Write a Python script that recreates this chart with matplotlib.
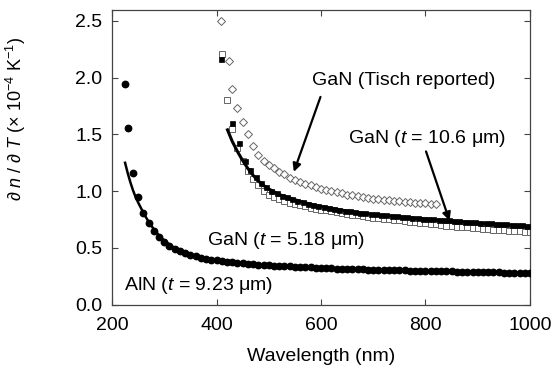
import matplotlib
matplotlib.use("Agg")
import matplotlib.pyplot as plt

plt.rcParams['font.family'] = ['Liberation Sans', 'DejaVu Sans']
plt.rcParams['mathtext.fontset'] = 'custom'
plt.rcParams['mathtext.rm'] = 'Liberation Sans'
plt.rcParams['mathtext.it'] = 'Liberation Sans:italic'

# AlN (t = 9.23 um) measured points
aln_wl = [225, 230, 240, 250, 260, 270, 280, 290, 300, 310, 320, 330, 340, 350, 360,
          370, 380, 390, 400, 410, 420, 430, 440, 450, 460, 470, 480, 490, 500, 510,
          520, 530, 540, 550, 560, 570, 580, 590, 600, 610, 620, 630, 640, 650, 660,
          670, 680, 690, 700, 710, 720, 730, 740, 750, 760, 770, 780, 790, 800, 810,
          820, 830, 840, 850, 860, 870, 880, 890, 900, 910, 920, 930, 940, 950, 960,
          970, 980, 990, 1000]
aln_dn = [1.94, 1.56, 1.16, 0.95, 0.81, 0.72, 0.65, 0.595, 0.55, 0.515, 0.49, 0.47, 0.452, 0.438, 0.426,
          0.415, 0.406, 0.398, 0.391, 0.385, 0.379, 0.374, 0.369, 0.365, 0.361, 0.357, 0.354, 0.351, 0.348, 0.345,
          0.342, 0.339, 0.337, 0.334, 0.332, 0.33, 0.328, 0.326, 0.324, 0.322, 0.32, 0.318, 0.317, 0.315, 0.314,
          0.312, 0.311, 0.309, 0.308, 0.307, 0.306, 0.305, 0.304, 0.303, 0.302, 0.301, 0.3, 0.299, 0.298, 0.297,
          0.296, 0.295, 0.294, 0.293, 0.292, 0.291, 0.29, 0.289, 0.288, 0.287, 0.286, 0.285, 0.284, 0.283, 0.282,
          0.281, 0.28, 0.279, 0.278]

# AlN fit
aln_fit_wl = [225, 230, 235, 240, 245, 250, 260, 270, 280, 290, 300, 310, 320, 330, 340, 350,
              360, 380, 400, 450, 500, 600, 700, 800, 900, 1000]
aln_fit_dn = [1.25, 1.16, 1.08, 1.01, 0.95, 0.9, 0.81, 0.73, 0.665, 0.61, 0.565, 0.53, 0.5, 0.475,
              0.455, 0.44, 0.425, 0.405, 0.39, 0.365, 0.35, 0.322, 0.305, 0.294, 0.285, 0.277]

# GaN (t = 5.18 um) open squares
gan5_wl = [410, 420, 430, 440, 450, 460, 470, 480, 490, 500, 510, 520, 530, 540, 550,
           560, 570, 580, 590, 600, 610, 620, 630, 640, 650, 660, 670, 680, 690, 700,
           710, 720, 730, 740, 750, 760, 770, 780, 790, 800, 810, 820, 830, 840, 850,
           860, 870, 880, 890, 900, 910, 920, 930, 940, 950, 960, 970, 980, 990, 1000]
gan5_dn = [2.21, 1.8, 1.55, 1.38, 1.27, 1.18, 1.11, 1.05, 1.0, 0.97, 0.95, 0.93, 0.915, 0.9, 0.887,
           0.875, 0.865, 0.855, 0.846, 0.838, 0.83, 0.822, 0.814, 0.806, 0.799, 0.792, 0.786, 0.78, 0.774, 0.768,
           0.762, 0.757, 0.752, 0.747, 0.742, 0.737, 0.732, 0.727, 0.722, 0.717, 0.712, 0.707, 0.702, 0.697, 0.692,
           0.688, 0.684, 0.68, 0.676, 0.672, 0.668, 0.664, 0.661, 0.658, 0.655, 0.652, 0.649, 0.646, 0.643, 0.64]

# GaN (t = 10.6 um) filled squares
gan10_wl = [408, 429, 444, 455, 465, 475, 485, 495, 505, 515, 525, 535, 545, 555, 565,
            575, 585, 595, 605, 615, 625, 635, 645, 655, 665, 675, 685, 695, 705, 715,
            725, 735, 745, 755, 765, 775, 785, 795, 805, 815, 825, 835, 845, 855, 865,
            875, 885, 895, 905, 915, 925, 935, 945, 955, 965, 975, 985, 995]
gan10_dn = [2.16, 1.6, 1.42, 1.27, 1.19, 1.125, 1.075, 1.037, 1.005, 0.98, 0.96, 0.945, 0.93, 0.915, 0.902,
            0.89, 0.879, 0.869, 0.86, 0.851, 0.843, 0.836, 0.829, 0.822, 0.816, 0.81, 0.805, 0.8, 0.795, 0.791,
            0.787, 0.783, 0.779, 0.775, 0.771, 0.767, 0.763, 0.759, 0.755, 0.751, 0.748, 0.745, 0.742, 0.739, 0.736,
            0.732, 0.729, 0.726, 0.722, 0.719, 0.716, 0.713, 0.71, 0.707, 0.704, 0.701, 0.698, 0.695]

# GaN fit
gan_fit_wl = [421, 430, 440, 450, 460, 470, 480, 490, 500, 520, 540, 560, 580, 600, 650,
              700, 750, 800, 850, 900, 950, 1000]
gan_fit_dn = [1.54, 1.44, 1.35, 1.27, 1.2, 1.14, 1.09, 1.05, 1.02, 0.97, 0.94, 0.91, 0.885, 0.865, 0.825,
              0.795, 0.775, 0.755, 0.737, 0.72, 0.705, 0.69]

# GaN (Tisch reported) diamonds
tisch_wl = [408, 423, 430, 440, 450, 460, 470, 480, 490, 500, 510, 520, 530, 540, 550,
            560, 570, 580, 590, 600, 610, 620, 630, 640, 650, 660, 670, 680, 690, 700,
            710, 720, 730, 740, 750, 760, 770, 780, 790, 800, 810, 820]
tisch_dn = [2.5, 2.15, 1.9, 1.73, 1.61, 1.5, 1.4, 1.32, 1.27, 1.23, 1.2, 1.17, 1.15, 1.12, 1.1,
            1.08, 1.065, 1.05, 1.035, 1.02, 1.01, 1.0, 0.99, 0.98, 0.97, 0.962, 0.955, 0.948, 0.941, 0.935,
            0.93, 0.925, 0.92, 0.915, 0.91, 0.906, 0.902, 0.898, 0.895, 0.892, 0.889, 0.886]

fig = plt.figure(figsize=(5.57, 3.73), dpi=100)
ax = fig.add_axes([0.2011, 0.1831, 0.7504, 0.7914])

gray = '#666666'
ax.plot(tisch_wl, tisch_dn, 'D', ms=3.8, mfc='white', mec=gray, mew=0.7, zorder=2)
ax.plot(gan5_wl, gan5_dn, 's', ms=4.0, mfc='white', mec=gray, mew=0.7, zorder=2)
ax.plot(gan10_wl, gan10_dn, 's', ms=3.6, mfc='black', mec='black', mew=0.5, zorder=3)
ax.plot(gan_fit_wl, gan_fit_dn, '-', color='black', lw=2.2, zorder=4)
ax.plot(aln_wl, aln_dn, 'o', ms=4.6, color='black', zorder=3)
ax.plot(aln_fit_wl, aln_fit_dn, '-', color='black', lw=1.8, zorder=4)

fs = 14
arrow = dict(arrowstyle='-|>', lw=1.6, color='black', mutation_scale=12, shrinkA=0, shrinkB=0)
ax.annotate('', xy=(548, 1.17), xytext=(599, 1.83), arrowprops=arrow)
ax.annotate('', xy=(846, 0.74), xytext=(801, 1.35), arrowprops=arrow)

ax.text(583, 1.936, 'GaN (Tisch reported)', fontsize=fs, va='baseline')
ax.text(652, 1.42, r'GaN ($t$ = 10.6 μm)', fontsize=fs, va='baseline')
ax.text(381, 0.525, r'GaN ($t$ = 5.18 μm)', fontsize=fs, va='baseline')
ax.text(222, 0.13, r'AlN ($t$ = 9.23 μm)', fontsize=fs, va='baseline')

ax.set_xlim(200, 1000)
ax.set_ylim(0, 2.6)
ax.set_xticks([200, 400, 600, 800, 1000])
ax.set_yticks([0.0, 0.5, 1.0, 1.5, 2.0, 2.5])
ax.set_yticklabels(['0.0', '0.5', '1.0', '1.5', '2.0', '2.5'])
ax.tick_params(direction='in', top=True, right=True, length=4, width=0.8,
               labelsize=fs, color='#444444')
ax.tick_params(axis='x', pad=9)
ax.tick_params(axis='y', pad=7)
for s in ax.spines.values():
    s.set_color('#444444')
    s.set_linewidth(0.9)

ax.set_xlabel('Wavelength (nm)', fontsize=fs, labelpad=10)
ax.set_ylabel(r'$\partial$ $n$ / $\partial$ $T$ (× 10$^{-4}$ K$^{-1}$)', fontsize=13)
ax.yaxis.set_label_coords(-0.2, 0.63)

fig.savefig('out.png', dpi=100)
